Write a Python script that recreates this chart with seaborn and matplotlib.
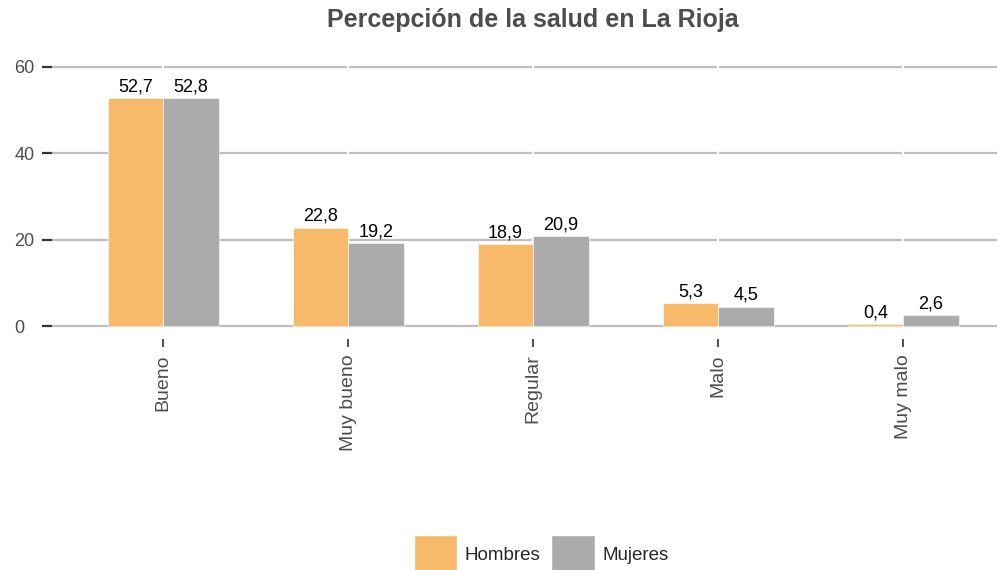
import numpy as np
import pandas as pd
import matplotlib
matplotlib.use("Agg")
import matplotlib.pyplot as plt
import seaborn as sns

sns.set_theme(style="white")
plt.rcParams['font.family'] = ['Liberation Sans', 'DejaVu Sans']

categorias = ["Bueno", "Muy bueno", "Regular", "Malo", "Muy malo"]
hombres = [52.7, 22.8, 18.9, 5.3, 0.4]
mujeres = [52.8, 19.2, 20.9, 4.5, 2.6]
sexos = ["Hombres", "Mujeres"]
colores = ["#F7BA6B", "#ABABAB"]
yticks = [0, 20, 40, 60]

df = pd.DataFrame({
    "categoria": categorias * 2,
    "valor": hombres + mujeres,
    "sexo": [sexos[0]] * len(categorias) + [sexos[1]] * len(categorias),
})

W, H = 997, 570
fig = plt.figure(figsize=(W / 100, H / 100), dpi=100)
# panel in pixel coords (the right side runs past the image edge, like the reference)
left, right, top, bottom = 52, 1014, 54, 339
ax = fig.add_axes([left / W, 1 - bottom / H, (right - left) / W, (bottom - top) / H])

sns.barplot(data=df, x="categoria", y="valor", hue="sexo", order=categorias,
            hue_order=sexos, palette=colores, width=0.6, saturation=1,
            edgecolor="white", linewidth=0.4, legend=False, zorder=3, ax=ax)

for cont in ax.containers:
    ax.bar_label(cont, labels=[("%.1f" % v).replace(".", ",") for v in cont.datavalues],
                 padding=2, fontsize=13, color="black")

ax.set_xlim(-0.6, 4.6)
ax.set_ylim(-3, 63)
ax.set_yticks(yticks)
ax.set_xlabel("")
ax.set_ylabel("")

# horizontal grid, broken by white vertical lines at each category
for y in yticks:
    ax.axhline(y, color="#BEBEBE", linewidth=1.6, zorder=1)
for i in range(len(categorias)):
    ax.axvline(i, color="white", linewidth=1.6, zorder=2)
for s in ax.spines.values():
    s.set_visible(False)

ax.tick_params(axis="y", left=True, length=7, width=1.6, color="#333333", labelsize=13,
               labelcolor="#4D4D4D", pad=20)
for lab in ax.get_yticklabels():
    lab.set_horizontalalignment("left")
ax.tick_params(axis="x", bottom=True, length=6, width=1.2, color="#333333", labelsize=14,
               labelcolor="#4D4D4D", pad=5, labelrotation=90)

fig.text((left + right) / 2 / W, 1 - 20 / H, "Percepción de la salud en La Rioja",
         ha="center", va="center", fontsize=18, fontweight="bold", color="#4D4D4D")

handles = [plt.Rectangle((0, 0), 1, 1, facecolor=c, edgecolor="white") for c in colores]
fig.legend(handles, sexos, loc="upper center", bbox_to_anchor=(541 / W, 1 - 527 / H),
           ncol=2, frameon=False, fontsize=13.5, handlelength=2.3, handleheight=2.9,
           handletextpad=0.4, columnspacing=0.6, borderaxespad=0)

fig.savefig("out.png", dpi=100)
